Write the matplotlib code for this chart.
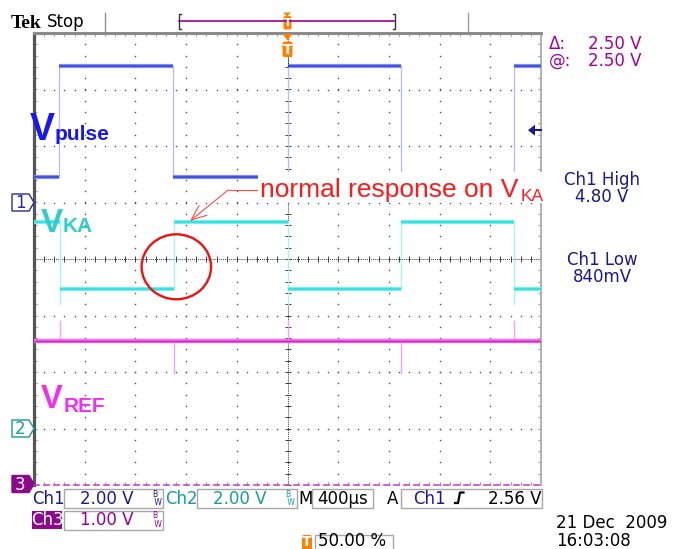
import numpy as np
import matplotlib.pyplot as plt
from matplotlib.patches import Ellipse, Rectangle, Polygon, FancyBboxPatch

plt.rcParams['font.family'] = ['DejaVu Sans']

W, H = 677, 549

# scope settings
time_per_div_us = 400
ch1_v_per_div, ch2_v_per_div, ch3_v_per_div = 2.0, 2.0, 1.0
ch1_ground_div, ch2_ground_div, ch3_ground_div = 1, -3, -4
ch1_trig_v = 2.56

# Ch1 - Vpulse square wave (starts low)
ch1_edges_us = [-1800, -903, 0, 893, 1785]
ch1_low_v, ch1_high_v = 0.91, 4.83

# Ch2 - VKA (starts high, dips at each falling edge)
ch2_edges_us = [-1795, -897, 0, 893, 1785]
ch2_low_v, ch2_high_v = 4.94, 7.32
ch2_dip_v = 4.41

# Ch3 - VREF, flat with small spikes at the edges
ch3_level_v = 2.54
ch3_spike_us = [-1795, -898, 0, 893, 1785]
ch3_spike_v = [2.90, 1.98, 2.90, 1.98, 2.90]

half = 5 * time_per_div_us


def square(edges, lo, hi, start_high):
    t = [-half]
    v = [hi if start_high else lo]
    level = start_high
    for e in edges:
        t += [e, e]
        v += [hi if level else lo, lo if level else hi]
        level = not level
    t.append(half)
    v.append(v[-1])
    return np.array(t, float), np.array(v, float)


def draw_trace(ax, t, y, edge_c, band_c, core_c):
    ax.plot(t, y, color=edge_c, lw=0.9, zorder=3)
    for i in range(0, len(t) - 1, 2):
        ax.plot(t[i:i + 2], y[i:i + 2], color=band_c, lw=3.0, solid_capstyle='butt', zorder=4)
        ax.plot(t[i:i + 2], y[i:i + 2], color=core_c, lw=1.1, solid_capstyle='butt', zorder=5)


fig = plt.figure(figsize=(W / 100, H / 100), dpi=100)
ax = fig.add_axes([34 / W, 1 - 485 / H, 507 / W, 452 / H])
ax.set_xlim(-half, half)
ax.set_ylim(-4, 4)

# graticule
dot_x = np.arange(-half, half + 1, time_per_div_us / 5)
dot_y = np.arange(-4, 4.001, 0.2)
for k in range(-4, 5):
    if k:
        ax.plot(np.full_like(dot_y, k * time_per_div_us), dot_y, ls='none', marker='s',
                ms=1.0, mew=0, color='#505050', zorder=1)
for k in range(-3, 4):
    if k:
        ax.plot(dot_x, np.full_like(dot_x, k), ls='none', marker='s',
                ms=1.0, mew=0, color='#505050', zorder=1)
ax.axhline(0, color='#404040', lw=0.7, ls=(0, (1, 1)), zorder=1)
ax.axvline(0, color='#404040', lw=0.7, ls=(0, (1, 1)), zorder=1)
ax.plot(dot_x, np.zeros_like(dot_x), ls='none', marker='|', ms=5, mew=0.7, color='#404040', zorder=1)
ax.plot(np.zeros_like(dot_y), dot_y, ls='none', marker='_', ms=5, mew=0.7, color='#404040', zorder=1)

ax.set_xticks([])
ax.set_yticks([])
ax.set_xticks(dot_x, minor=True)
ax.set_yticks(dot_y, minor=True)
ax.tick_params(which='minor', direction='in', length=2.5, width=0.7, color='#909090',
               top=True, right=True, labelbottom=False, labelleft=False)
ax.spines['left'].set_color('#555555')
ax.spines['left'].set_linewidth(2.3)
ax.spines['top'].set_color('#8c8c8c')
ax.spines['top'].set_linewidth(2.2)
ax.spines['right'].set_color('#b0b0b0')
ax.spines['right'].set_linewidth(1.4)
ax.spines['bottom'].set_color('#cc44cc')
ax.spines['bottom'].set_linewidth(1.2)
ax.spines['bottom'].set_linestyle((0, (3, 3)))

# Ch1
t1, v1 = square(ch1_edges_us, ch1_low_v, ch1_high_v, False)
draw_trace(ax, t1, ch1_ground_div + v1 / ch1_v_per_div, '#b4baf6', '#8590ee', '#3040dc')

# Ch2
t2, v2 = square(ch2_edges_us, ch2_low_v, ch2_high_v, True)
draw_trace(ax, t2, ch2_ground_div + v2 / ch2_v_per_div, '#a4f4f4', '#7aeeee', '#22dede')
for i, e in enumerate(ch2_edges_us):
    if i % 2 == 0:
        ax.plot([e, e], [ch2_ground_div + ch2_low_v / ch2_v_per_div,
                         ch2_ground_div + ch2_dip_v / ch2_v_per_div], color='#a4f4f4', lw=0.9, zorder=3)

# Ch3
y3 = ch3_ground_div + ch3_level_v / ch3_v_per_div
for e, sv in zip(ch3_spike_us, ch3_spike_v):
    ax.plot([e, e], [y3, ch3_ground_div + sv / ch3_v_per_div], color='#f4a0f4', lw=1.0, zorder=3)
ax.plot([-half, half], [y3, y3], color='#f070f0', lw=3.2, solid_capstyle='butt', zorder=4)
ax.plot([-half, half], [y3, y3], color='#d020c8', lw=1.0, solid_capstyle='butt', zorder=5)

# annotations on the screen
ax.add_patch(Ellipse((-877, -0.138), 548, 1.15, fill=False, ec='#ee1111', lw=1.7,
                     zorder=6, clip_on=False))
ax.plot([-225, -469], [1.22, 1.22], color='#ff4a4a', lw=0.8, zorder=6)
ax.annotate('', xy=(-769, 0.673), xytext=(-469, 1.22),
            arrowprops=dict(arrowstyle='->,head_length=1.1,head_width=0.45',
                            color='#ff4a4a', lw=0.8, shrinkA=0, shrinkB=0), zorder=6)

# overlay in screen pixels for the scope chrome
ov = fig.add_axes([0, 0, 1, 1])
ov.set_xlim(0, W)
ov.set_ylim(H, 0)
ov.axis('off')

# trace labels
ov.text(30, 140, 'V', fontsize=27, weight='bold', family='Liberation Sans', color='#1818ee', va='baseline')
ov.text(55, 140.5, 'pulse', fontsize=15, weight='bold', family='Liberation Sans', color='#1818ee', va='baseline')
ov.text(41, 232, 'V', fontsize=24, weight='bold', family='Liberation Sans', color='#33cccc', va='baseline')
ov.text(63, 232.5, 'KA', fontsize=15, weight='bold', family='Liberation Sans', color='#33cccc', va='baseline')
ov.text(41, 408.5, 'V', fontsize=23.5, weight='bold', family='Liberation Sans', color='#f030f0', va='baseline')
ov.text(64, 411.5, 'REF', fontsize=15, weight='bold', family='Liberation Sans', color='#f030f0', va='baseline')

ov.add_patch(Rectangle((258, 172), 287, 31, fc='white', ec='none'))
ov.text(260, 197, 'normal response on V', fontsize=19, family='Liberation Sans',
        color='#ff1a1a', va='baseline')
ov.text(521, 201, 'KA', fontsize=12.5, family='Liberation Sans', color='#ff1a1a', va='baseline')

# header
ov.text(11, 27.5, 'Tek', fontsize=14, weight='bold', family='Liberation Serif', va='baseline')
ov.text(47, 27, 'Stop', fontsize=12, va='baseline')
ov.plot([105, 105], [13, 31], color='#909090', lw=1)
ov.plot([468, 468], [13, 31], color='#a0a0a0', lw=1)
ov.plot([180.5, 178.5, 178.5, 180.5], [13.5, 13.5, 29, 29], color='#333333', lw=1)
ov.plot([393, 395, 395, 393], [13.5, 13.5, 29, 29], color='#333333', lw=1)
ov.plot([179, 395], [21.3, 21.3], color='#990099', lw=1.2)


def t_marker(xc, y0, y1, w, fs):
    ov.add_patch(FancyBboxPatch((xc - w / 2, y0), w, y1 - y0,
                                boxstyle='round,pad=0,rounding_size=2', fc='#ff8000', ec='none'))
    ov.text(xc, (y0 + y1) / 2 + 0.5, 'T', color='white', weight='bold', fontsize=fs,
            ha='center', va='center')


ov.add_patch(Polygon([(283, 12.5), (291, 12.5), (287, 16.5)], fc='#ff8000', ec='none'))
t_marker(287.5, 16, 29.5, 8, 8)
ov.add_patch(Polygon([(282.5, 34), (292.5, 34), (287.5, 40.5)], fc='#ff8000', ec='none'))
t_marker(287.5, 41.5, 57, 10, 10)
ov.plot([287.5, 287.5], [58, 66], color='#222222', lw=0.8, ls=(0, (1, 1)))

# right-hand readouts
purple = '#a000a0'
ov.text(549, 44, '\u0394:', fontsize=12, color=purple, va='center')
ov.text(641, 44, '2.50 V', fontsize=12, color=purple, va='center', ha='right')
ov.text(549, 61, '@:', fontsize=12, color=purple, va='center')
ov.text(641, 61, '2.50 V', fontsize=12, color=purple, va='center', ha='right')

navy = '#1a1a8c'
trig_y = 259 - (ch1_ground_div + ch1_trig_v / ch1_v_per_div) * 56.5
ov.add_patch(Polygon([(528, trig_y), (535, trig_y - 5.5), (535, trig_y + 5.5)], fc=navy, ec='none'))
ov.plot([534, 541], [trig_y, trig_y], color=navy, lw=1.5)
ov.text(602, 180, 'Ch1 High', fontsize=12, color=navy, ha='center', va='center')
ov.text(602, 197.5, '4.80 V', fontsize=12, color=navy, ha='center', va='center')
ov.text(602, 260, 'Ch1 Low', fontsize=12, color=navy, ha='center', va='center')
ov.text(602, 277.5, '840mV', fontsize=12, color=navy, ha='center', va='center')

# channel ground markers
teal = '#1a9a9a'


def ch_marker(yc, label, ec, fc, tc):
    pts = [(12, yc - 8.5), (29, yc - 8.5), (34, yc), (29, yc + 8.5), (12, yc + 8.5)]
    ov.add_patch(Polygon(pts, closed=True, ec=ec, fc=fc, lw=1))
    ov.text(20.5, yc + 0.5, label, ha='center', va='center', color=tc, fontsize=12)


ch_marker(202.5, '1', '#2a2aa0', 'white', '#2a2aa0')
ch_marker(428.5, '2', teal, 'white', teal)
ch_marker(484, '3', '#8b0a8b', '#8b0a8b', 'white')

# bottom readouts
box_c = '#a8a8a8'


def box(x0, x1, y0, y1):
    ov.add_patch(Rectangle((x0, y0), x1 - x0, y1 - y0, fc='none', ec=box_c, lw=1))


def bw(x, y, c):
    # bandwidth-limit glyph: small B over W, one text
    ov.text(x, y, 'B\n W', fontsize=5.5, color=c, va='center', linespacing=0.95)


r1, r2 = 498.5, 520
ov.text(32, r1, 'Ch1', fontsize=12, color=navy, va='center')
box(64, 163, 489, 507.5)
ov.text(107, r1, '2.00 V', fontsize=12, color=navy, va='center', ha='center')
bw(152, r1, navy)
ov.text(165, r1, 'Ch2', fontsize=12, color=teal, va='center')
box(197, 297, 489, 507.5)
ov.text(240, r1, '2.00 V', fontsize=12, color=teal, va='center', ha='center')
bw(285, r1, teal)
ov.text(298, r1, 'M', fontsize=12, color='black', va='center')
box(312, 373, 489, 507.5)
ov.text(343, r1, '400\u00b5s', fontsize=12, color='black', va='center', ha='center')
ov.text(393, r1, 'A', fontsize=12, color='black', va='center', ha='center')
box(400.5, 542, 489, 507.5)
ov.text(413, r1, 'Ch1', fontsize=12, color=navy, va='center')
ov.plot([455, 458, 460, 463.5], [503, 503, 492.5, 492.5], color='black', lw=1.6)
ov.text(541, r1, '2.56 V', fontsize=12, color='black', va='center', ha='right')

ov.add_patch(Rectangle((32, 510.5), 30, 18.5, fc='#8b0a8b', ec='none'))
ov.text(47, r2, 'Ch3', fontsize=12, color='white', va='center', ha='center')
box(64, 163, 510.5, 529.5)
ov.text(107, r2, '1.00 V', fontsize=12, color='#990099', va='center', ha='center')
bw(152, r2, '#990099')

ov.add_patch(FancyBboxPatch((302, 535), 10, 15, boxstyle='round,pad=0,rounding_size=2',
                            fc='#ff8000', ec='none'))
ov.text(307, 542.5, 'T', color='white', weight='bold', fontsize=10, ha='center', va='center')
box(315, 392.5, 535, 552)
ov.text(318, 541.5, '50.00 %', fontsize=12, color='black', va='center')

ov.text(556, 523, '21 Dec  2009', fontsize=12, color='black', va='center')
ov.text(556, 540.5, '16:03:08', fontsize=12, color='black', va='center')

fig.savefig('out.png', dpi=100)
